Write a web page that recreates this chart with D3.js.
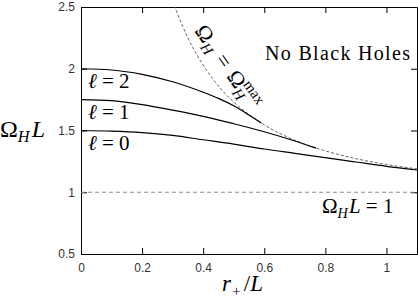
<!DOCTYPE html>
<html>
<head>
<meta charset="utf-8">
<script src="https://cdn.jsdelivr.net/npm/d3@7"></script>
<style>
  html, body { margin: 0; padding: 0; background: #fff; }
  .tick text { font-family: 'Liberation Sans', Arial, sans-serif; font-size: 12px; fill: #333; }
  .math { font-family: 'Liberation Serif', 'Times New Roman', serif; fill: #000; }
</style>
</head>
<body>
<svg id="chart"></svg>
<script>
'use strict';

// r+/L grid for each family, and Omega_H L
const rL0 = [0, 0.1, 0.2, 0.3, 0.4, 0.5, 0.6, 0.7, 0.8, 0.9, 1.0, 1.1];
const omegaL0 = [1.5, 1.495, 1.483, 1.46, 1.425, 1.39, 1.35, 1.315, 1.28, 1.245, 1.21, 1.18];

const rL1 = [0, 0.1, 0.2, 0.3, 0.4, 0.5, 0.6, 0.7, 0.77];
const omegaL1 = [1.75, 1.742, 1.71, 1.665, 1.615, 1.555, 1.49, 1.415, 1.357];

const rL2 = [0, 0.1, 0.2, 0.3, 0.4, 0.45, 0.5, 0.55, 0.59];
const omegaL2 = [2.0, 1.99, 1.955, 1.895, 1.81, 1.76, 1.70, 1.625, 1.56];

const rMax = [0.3, 0.33, 0.35, 0.38, 0.4, 0.45, 0.5, 0.55, 0.6, 0.7, 0.8, 0.9, 1.0, 1.1];
const omegaMax = [2.55, 2.36, 2.25, 2.11, 2.03, 1.86, 1.73, 1.63, 1.546, 1.421, 1.335, 1.272, 1.225, 1.189];

const xTicks = [0, 0.2, 0.4, 0.6, 0.8, 1];
const yTicks = [0.5, 1, 1.5, 2, 2.5];
const ellValues = ['2', '1', '0'];

const width = 418;
const height = 300;
const margin = {top: 7, right: 1, bottom: 46, left: 81};

const svg = d3.select('#chart')
  .attr('width', width)
  .attr('height', height);

const x = d3.scaleLinear().domain([0, 1.1]).range([margin.left, width - margin.right]);
const y = d3.scaleLinear().domain([0.5, 2.5]).range([height - margin.bottom, margin.top]);

svg.append('defs').append('clipPath')
    .attr('id', 'plot-clip')
  .append('rect')
    .attr('x', x(0))
    .attr('y', y(2.5))
    .attr('width', x(1.1) - x(0))
    .attr('height', y(0.5) - y(2.5));

const fmt = d3.format('~g');

svg.append('g')
  .attr('transform', 'translate(0,' + y(0.5) + ')')
  .call(d3.axisBottom(x).tickValues(xTicks).tickSize(-6).tickSizeOuter(0).tickPadding(9).tickFormat(fmt));

svg.append('g')
  .attr('transform', 'translate(0,' + y(2.5) + ')')
  .call(d3.axisTop(x).tickValues(xTicks).tickSize(-6).tickSizeOuter(0).tickFormat(''));

svg.append('g')
  .attr('transform', 'translate(' + x(0) + ',0)')
  .call(d3.axisLeft(y).tickValues(yTicks).tickSize(-6).tickSizeOuter(0).tickPadding(6).tickFormat(fmt));

svg.append('g')
  .attr('transform', 'translate(' + x(1.1) + ',0)')
  .call(d3.axisRight(y).tickValues(yTicks).tickSize(-6).tickSizeOuter(0).tickFormat(''));

svg.selectAll('.domain').attr('stroke', '#000');
svg.selectAll('.tick line').attr('stroke', '#000');

const plot = svg.append('g').attr('clip-path', 'url(#plot-clip)');

const line = d3.line()
  .x(d => x(d[0]))
  .y(d => y(d[1]))
  .curve(d3.curveMonotoneX);

// Omega_H L = 1
plot.append('path')
  .datum([[0, 1], [1.1, 1]])
  .attr('d', line)
  .attr('fill', 'none')
  .attr('stroke', '#8a8a8a')
  .attr('stroke-width', 1)
  .attr('stroke-dasharray', '4,3');

plot.append('path')
  .datum(d3.zip(rMax, omegaMax))
  .attr('d', line)
  .attr('fill', 'none')
  .attr('stroke', '#555')
  .attr('stroke-width', 0.9)
  .attr('stroke-dasharray', '3,2');

const families = [
  d3.zip(rL0, omegaL0),
  d3.zip(rL1, omegaL1),
  d3.zip(rL2, omegaL2)
];

plot.selectAll('.family')
  .data(families)
  .enter()
  .append('path')
  .attr('class', 'family')
  .attr('d', line)
  .attr('fill', 'none')
  .attr('stroke', '#000')
  .attr('stroke-width', 1.2);

// small TeX-like text: parts are [text, style, dx] with style in it/sub/sup
function mathText(sel, size, parts) {
  const t = sel.append('text').attr('class', 'math').style('font-size', size + 'px');
  let shift = 0;
  parts.forEach(p => {
    const s = p[1] || '';
    const ts = t.append('tspan').text(p[0]);
    let target = 0;
    if (s.includes('sub')) target = size * 0.22;
    if (s.includes('sup')) target = -size * 0.42;
    if (s.includes('sub') || s.includes('sup')) ts.style('font-size', (size * 0.68) + 'px');
    if (s.includes('it')) ts.style('font-style', 'italic');
    ts.attr('dy', target - shift);
    if (p[2]) ts.attr('dx', p[2]);
    shift = target;
  });
  return t;
}

ellValues.forEach((v, i) => {
  mathText(svg, 21, [['\u2113', 'it'], [' = ' + v]])
    .attr('x', 88)
    .attr('y', y(2 - i * 0.25) + 19);
});

mathText(svg, 24, [['\u03A9'], ['H', 'it sub'], ['L', 'it', 2]])
  .attr('x', 0).attr('y', 137);

mathText(svg, 23, [['r', 'it'], ['+', 'sub', 1], ['/', '', 3], ['L', 'it']])
  .attr('x', 222).attr('y', 291);

mathText(svg, 21, [['\u03A9'], ['H', 'it sub'], ['L', 'it', 1], [' = 1']])
  .attr('x', 322).attr('y', 213);

svg.append('text').attr('class', 'math')
  .attr('x', 265).attr('y', 60)
  .attr('textLength', 145)
  .style('font-size', '20px')
  .text('No Black Holes');

mathText(svg, 22, [['\u03A9'], ['H', 'it sub'], ['=', '', 8], ['\u03A9', '', 8], ['H', 'it sub'], ['max', 'sup', -11]])
  .attr('transform', 'translate(194,31) rotate(55)');
</script>
</body>
</html>
